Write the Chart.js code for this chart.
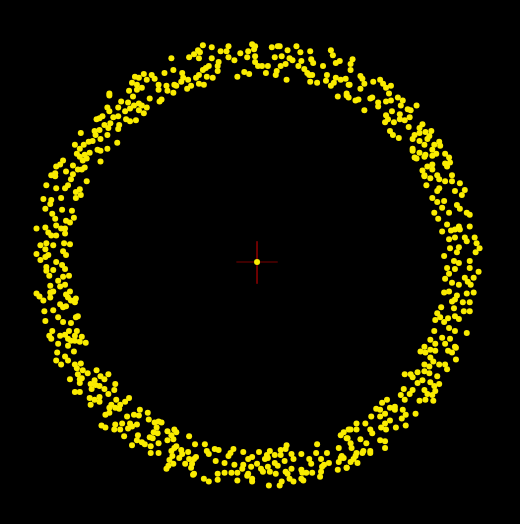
<!DOCTYPE html>
<html>
<head>
<meta charset="utf-8">
<title>Ring scatter</title>
<script src="https://cdn.jsdelivr.net/npm/chart.js@4/dist/chart.umd.min.js"></script>
<style>
  html, body { margin: 0; padding: 0; background: #000; }
  #box { width: 520px; height: 524px; }
</style>
</head>
<body>
<div id="box"><canvas id="myChart" width="520" height="524"></canvas></div>
<script>
// point positions, [x, y] in screen units (y grows downwards)
var arcTopLeft = [
  [170,55],[172,67],[163,70],[142,71],[133,74],[137,75],[150,72],[153,76],[145,77],[130,80],
  [135,82],[140,85],[157,82],[165,83],[173,82],[166,88],[172,90],[157,87],[127,88],[135,87],
  [107,91],[107,93],[131,94],[148,96],[160,97],[158,99],[119,99],[126,100],[137,101],[132,103],
  [140,103],[145,105],[105,105],[116,105],[128,106],[137,108],[142,111],[107,109],[123,109],[100,114],
  [97,116],[94,117],[111,115],[116,114],[124,117],[134,118],[128,119],[108,121],[117,123],[102,123],
  [116,127],[106,126],[97,128],[92,129],[78,131],[105,133],[93,133],[98,137],[90,139],[86,140],
  [115,141],[72,143],[81,143],[77,147],[105,147],[95,148],[98,149],[87,151],[74,152],[82,153],
  [77,155],[84,157],[80,159],[98,160],[60,159],[57,163],[53,165],[70,164],[82,166],[75,168],
  [79,168],[63,170],[70,173],[52,172],[48,174]
]
var arcTop = [
  [202,42],[211,44],[228,43],[252,41],[255,43],[272,44],[278,43],[280,43],[297,43],[332,47],
  [197,47],[193,51],[199,49],[188,54],[198,55],[211,55],[220,48],[226,48],[240,50],[248,48],
  [254,46],[247,54],[255,53],[228,54],[234,57],[255,59],[275,54],[282,53],[288,47],[290,55],
  [293,57],[301,49],[311,48],[302,58],[312,56],[314,60],[334,52],[341,58],[337,60],[324,63],
  [218,59],[217,63],[208,63],[205,65],[202,67],[198,72],[195,75],[181,70],[182,75],[180,79],
  [187,77],[190,83],[186,86],[198,81],[203,82],[206,74],[212,75],[217,68],[237,74],[244,69],
  [249,71],[258,63],[262,63],[268,63],[266,70],[277,68],[276,72],[281,63],[286,61],[287,77],
  [299,63],[305,66],[308,70],[310,72],[313,72],[311,79],[318,80],[328,72],[327,78],[332,83],
  [335,80],[337,75],[342,77],[339,94],[175,83]
]
var arcTopRight = [
  [354,56],[352,61],[352,67],[347,76],[351,82],[362,73],[364,76],[366,81],[362,86],[375,79],
  [382,77],[385,81],[393,83],[388,85],[348,91],[350,95],[357,98],[360,97],[372,96],[374,95],
  [380,100],[380,104],[391,91],[388,99],[393,98],[400,95],[405,98],[403,103],[410,107],[413,108],
  [419,103],[366,108],[394,109],[388,113],[390,117],[387,120],[402,112],[402,117],[407,118],[412,115],
  [396,120],[411,125],[425,122],[422,126],[422,131],[428,130],[434,129],[392,129],[395,133],[401,136],
  [417,133],[415,137],[422,139],[430,137],[432,134],[427,143],[437,143],[442,140],[443,144],[415,147],
  [415,149],[422,151],[428,153],[435,148],[439,152],[435,154],[427,155],[417,156],[419,157],[448,152],
  [452,156],[448,162],[453,161],[450,165],[435,163],[430,165],[435,168],[425,169],[427,174],[440,174],
  [455,174],[348,93],[350,82]
]
var arcLeft = [
  [52,175],[68,178],[84,180],[43,184],[53,187],[62,187],[65,184],[77,188],[73,191],[78,194],
  [73,197],[58,197],[40,198],[48,199],[47,203],[42,208],[59,209],[69,210],[49,213],[52,218],
  [71,217],[63,220],[67,222],[33,228],[42,227],[53,225],[58,228],[62,228],[45,232],[48,235],
  [53,235],[62,233],[37,245],[43,243],[50,245],[61,243],[67,244],[42,249],[60,251],[33,254],
  [42,257],[45,255],[63,255],[37,260],[53,262],[43,267],[59,265],[62,269],[43,271],[50,270],
  [46,276],[60,277],[66,276],[55,281],[62,285],[47,286],[57,287],[50,292],[47,293],[33,294],
  [36,297],[63,295],[67,292],[40,301],[47,298],[65,298],[68,301],[72,303],[73,299],[57,305],
  [60,308],[63,307],[41,312],[50,311],[55,318],[73,318],[75,317],[42,322],[60,323],[68,324],
  [49,332],[66,332],[74,332],[46,337],[48,340],[57,337],[62,336],[72,337],[65,340],[68,342],
  [79,338],[72,342],[77,343],[83,344],[55,345],[65,347]
]
var arcRight = [
  [427,175],[433,177],[442,178],[448,180],[455,180],[463,182],[429,184],[442,187],[440,190],[458,190],
  [468,189],[435,197],[465,194],[440,201],[447,200],[445,207],[452,212],[460,204],[463,208],[470,212],
  [473,214],[437,212],[441,218],[450,224],[462,226],[473,226],[445,231],[454,230],[458,229],[463,229],
  [452,239],[458,237],[468,237],[470,241],[478,237],[480,243],[483,248],[453,248],[462,247],[460,252],
  [479,252],[447,256],[457,261],[462,263],[473,261],[473,268],[450,268],[458,269],[482,272],[452,274],
  [448,279],[455,283],[462,285],[468,278],[471,282],[477,278],[474,285],[447,293],[452,292],[460,296],
  [470,294],[477,293],[455,302],[458,300],[466,303],[473,303],[444,308],[457,309],[467,312],[473,312],
  [440,314],[443,318],[458,317],[462,320],[438,321],[447,323],[451,319],[452,329],[437,332],[458,332],
  [470,334],[445,339],[453,340],[433,341],[438,345],[427,348],[448,345],[458,348]
]
var arcBottomLeft = [
  [54,354],[71,353],[62,358],[65,362],[58,366],[53,362],[72,366],[78,365],[74,370],[80,372],
  [85,375],[75,376],[77,381],[79,380],[67,381],[77,385],[94,372],[98,378],[106,376],[102,381],
  [92,382],[88,386],[93,387],[97,388],[89,391],[102,391],[113,386],[112,392],[72,394],[77,394],
  [106,396],[97,399],[87,400],[92,402],[97,404],[88,407],[114,402],[127,400],[123,404],[118,407],
  [109,407],[107,410],[113,410],[117,411],[107,415],[103,417],[138,412],[146,415],[132,417],[137,418],
  [125,419],[99,428],[103,430],[113,427],[112,432],[120,426],[128,426],[130,429],[135,427],[118,432],
  [126,431],[147,422],[153,425],[157,424],[160,425],[155,430],[152,435],[156,436],[148,440],[151,441],
  [166,434],[170,438],[173,432],[172,442],[166,443],[122,439],[136,438],[135,443],[140,445],[143,447],
  [130,448],[149,449],[157,446],[157,456],[149,456],[170,454],[173,451],[171,459],[168,463],[172,467],
  [167,469],[165,472]
]
var arcBottom = [
  [175,435],[188,439],[175,449],[180,453],[181,457],[178,461],[187,455],[188,462],[193,462],[195,460],
  [184,467],[191,467],[190,471],[193,477],[192,478],[194,447],[204,447],[206,454],[208,457],[214,452],
  [218,453],[215,464],[203,482],[208,485],[217,477],[217,483],[224,466],[224,476],[228,459],[230,456],
  [233,452],[231,476],[237,476],[234,468],[237,484],[243,455],[243,468],[242,472],[248,462],[252,460],
  [248,477],[247,479],[252,482],[252,485],[251,470],[257,467],[259,455],[261,472],[267,458],[265,462],
  [268,461],[268,470],[263,475],[270,475],[270,454],[275,458],[275,466],[278,469],[281,458],[281,453],
  [287,448],[286,452],[285,464],[286,475],[276,477],[282,485],[280,489],[269,489],[292,457],[294,462],
  [292,472],[288,477],[290,482],[294,485],[302,457],[302,473],[303,476],[307,476],[302,482],[304,484],
  [310,462],[312,467],[313,476],[318,447],[317,456],[322,462],[323,470],[322,475],[321,480],[328,456],
  [330,466],[325,468],[340,451],[342,461],[340,465],[343,459],[339,473],[348,471],[342,438],[345,435],
  [350,432],[348,441]
]
var arcBottomRight = [
  [423,353],[428,354],[433,351],[438,352],[451,352],[455,354],[459,349],[433,359],[436,363],[442,366],
  [448,366],[450,371],[459,361],[427,366],[432,368],[420,374],[427,373],[432,375],[440,378],[407,376],
  [413,376],[415,379],[425,382],[420,385],[433,384],[437,388],[442,386],[406,391],[415,392],[412,396],
  [427,392],[438,393],[435,397],[430,396],[403,397],[407,402],[422,403],[428,402],[436,403],[384,405],
  [389,402],[392,410],[397,409],[397,412],[378,411],[382,412],[387,416],[405,412],[418,416],[373,419],
  [382,419],[404,421],[408,417],[367,426],[358,426],[358,432],[392,423],[387,426],[383,430],[388,432],
  [398,430],[408,428],[372,432],[374,436],[352,432],[349,441],[362,442],[368,446],[382,443],[387,444],
  [352,446],[353,451],[358,456],[365,454],[364,456],[372,454],[372,456],[387,451],[357,459],[355,462],
  [352,465],[359,466],[348,471],[345,461]
]
var centrePoint = [[257,262]]
var crossH = [[236,262],[278,262]]
var crossV = [[257,241],[257,284]]

function toPoints(list) {
  return list.map(function (p) { return { x: p[0], y: p[1] } })
}

var ring = [].concat(arcTopLeft, arcTop, arcTopRight, arcLeft, arcRight,
                     arcBottomLeft, arcBottom, arcBottomRight)

var yellow = 'rgb(250,236,0)'
var darkRed = 'rgb(125,0,0)'

const data = {
  datasets: [
    {
      type: 'line',
      data: toPoints(crossH),
      borderColor: darkRed,
      borderWidth: 1,
      pointRadius: 0,
      order: 3
    },
    {
      type: 'line',
      data: toPoints(crossV),
      borderColor: darkRed,
      borderWidth: 1,
      pointRadius: 0,
      order: 3
    },
    {
      data: toPoints(ring),
      backgroundColor: yellow,
      borderWidth: 0,
      pointRadius: 3,
      order: 1
    },
    {
      data: toPoints(centrePoint),
      backgroundColor: yellow,
      borderWidth: 0,
      pointRadius: 3,
      order: 0
    }
  ]
}

const config = {
  type: 'scatter',
  data: data,
  options: {
    responsive: false,
    animation: false,
    devicePixelRatio: 1,
    layout: { padding: 0 },
    plugins: { legend: { display: false }, tooltip: { enabled: false } },
    scales: {
      x: { type: 'linear', min: 0, max: 520, display: false },
      y: { type: 'linear', min: 0, max: 524, reverse: true, display: false }
    }
  }
}

const myChart = new Chart(document.getElementById('myChart'), config)
</script>
</body>
</html>
